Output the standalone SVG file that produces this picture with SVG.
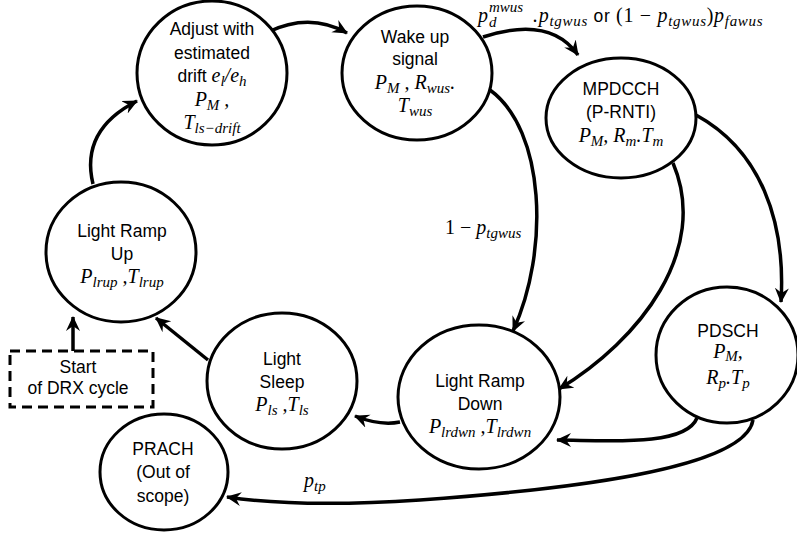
<svg xmlns="http://www.w3.org/2000/svg" width="797" height="534" viewBox="0 0 797 534">
<style>
.n{fill:#fff;stroke:#000;stroke-width:3}
.t{font-family:"Liberation Sans",Arial,sans-serif;font-size:17.5px;font-style:normal;fill:#000;text-anchor:middle}
.m{font-family:"Liberation Serif","Times New Roman",serif;font-style:italic;font-size:20px;fill:#000;text-anchor:middle}
.l{text-anchor:start}
.s{font-size:15px}
.u{font-style:normal}
.sf{font-family:"Liberation Sans",Arial,sans-serif;font-style:normal;font-size:17.5px}
.c{fill:none;stroke:#000;stroke-width:3.5;marker-end:url(#a)}
</style>
<defs>
<marker id="a" markerUnits="userSpaceOnUse" markerWidth="18" markerHeight="16" refX="14" refY="7" orient="auto">
<path d="M0,0 L15,7 L0,14 L5,7 Z" fill="#000"/>
</marker>
</defs>
<rect width="797" height="534" fill="#fff"/>
<g id="connectors">
<path class="c" d="M93,184 Q80,130 137,101"/>
<path class="c" d="M268,32 Q310,12 347,33"/>
<path class="c" d="M483,37 Q550,15 578,55"/>
<path class="c" d="M490,90 C545,130 550,250 513,331"/>
<path class="c" d="M673,163 C710,250 640,340 559,389"/>
<path class="c" d="M696,115 C760,150 786,220 781,302"/>
<path class="c" d="M697,418 C685,448 600,440 557,440"/>
<path class="c" d="M753,420 C745,470 560,490 420,500 Q300,508 227,497"/>
<path class="c" d="M400,422 Q380,426 355,416"/>
<path class="c" d="M208,360 L156,318"/>
<path class="c" d="M73,351 L73,317"/>
</g>
<g id="adjust">
<ellipse class="n" cx="212" cy="73" rx="75" ry="72"/>
<text class="t" x="212" y="35">Adjust with</text>
<text class="t" x="212" y="59">estimated</text>
<text class="t" x="212" y="82">drift  <tspan class="m">e<tspan class="s" dy="4">l</tspan><tspan dy="-4">/e</tspan><tspan class="s" dy="4">h</tspan></tspan></text>
<text class="m" x="212" y="106">P<tspan class="s" dy="4">M</tspan><tspan dy="-4"> ,</tspan></text>
<text class="m" x="212" y="129">T<tspan class="s" dy="4">ls−drift</tspan></text>
</g>
<g id="wakeup">
<ellipse class="n" cx="417" cy="73" rx="75" ry="67"/>
<text class="t" x="415" y="43">Wake up</text>
<text class="t" x="415" y="65">signal</text>
<text class="m" x="415" y="89">P<tspan class="s" dy="4">M</tspan><tspan dy="-4"> , R</tspan><tspan class="s" dy="4">wus</tspan><tspan dy="-4">.</tspan></text>
<text class="m" x="415" y="112">T<tspan class="s" dy="4">wus</tspan></text>
</g>
<g id="mpdcch">
<ellipse class="n" cx="621" cy="118" rx="75" ry="60"/>
<text class="t" x="621" y="95">MPDCCH</text>
<text class="t" x="621" y="118">(P-RNTI)</text>
<text class="m" x="621" y="142">P<tspan class="s" dy="4">M</tspan><tspan dy="-4">, R</tspan><tspan class="s" dy="4">m</tspan><tspan dy="-4">.T</tspan><tspan class="s" dy="4">m</tspan></text>
</g>
<g id="rampup">
<ellipse class="n" cx="121" cy="252" rx="75" ry="70"/>
<text class="t" x="122" y="237">Light Ramp</text>
<text class="t" x="122" y="260">Up</text>
<text class="m" x="122" y="283">P<tspan class="s" dy="4">lrup</tspan><tspan dy="-4"> ,T</tspan><tspan class="s" dy="4">lrup</tspan></text>
</g>
<g id="start">
<rect x="10" y="351" width="143" height="56" fill="#fff" stroke="#000" stroke-width="3" stroke-dasharray="10,6"/>
<text class="t" x="78" y="373">Start</text>
<text class="t" x="78" y="394">of DRX cycle</text>
</g>
<g id="sleep">
<ellipse class="n" cx="282" cy="381" rx="75" ry="68"/>
<text class="t" x="282" y="365">Light</text>
<text class="t" x="282" y="388">Sleep</text>
<text class="m" x="282" y="411">P<tspan class="s" dy="4">ls</tspan><tspan dy="-4"> ,T</tspan><tspan class="s" dy="4">ls</tspan></text>
</g>
<g id="rampdown">
<ellipse class="n" cx="479" cy="397" rx="81" ry="72"/>
<text class="t" x="480" y="387">Light Ramp</text>
<text class="t" x="480" y="410">Down</text>
<text class="m" x="480" y="433">P<tspan class="s" dy="4">lrdwn</tspan><tspan dy="-4"> ,T</tspan><tspan class="s" dy="4">lrdwn</tspan></text>
</g>
<g id="pdsch">
<ellipse class="n" cx="727" cy="355" rx="71" ry="68"/>
<text class="t" x="728" y="337">PDSCH</text>
<text class="m" x="728" y="358">P<tspan class="s" dy="3">M</tspan><tspan dy="-3">,</tspan></text>
<text class="m" x="728" y="384">R<tspan class="s" dy="4">p</tspan><tspan dy="-4">.T</tspan><tspan class="s" dy="4">p</tspan></text>
</g>
<g id="prach">
<ellipse class="n" cx="164" cy="472" rx="64" ry="58"/>
<text class="t" x="163" y="455">PRACH</text>
<text class="t" x="163" y="478">(Out of</text>
<text class="t" x="163" y="502">scope)</text>
</g>
<g id="labels">
<text class="m l" x="478" y="22">p</text>
<text class="m l s" x="489" y="27">d</text>
<text class="m l s" x="489" y="12">mwus</text>
<text class="m l" x="533" y="22" letter-spacing="0.7">.p<tspan class="s" dy="4">tgwus</tspan><tspan class="sf" dy="-4"> or </tspan><tspan class="u">(1 − </tspan>p<tspan class="s" dy="4">tgwus</tspan><tspan class="u" dy="-4">)</tspan>p<tspan class="s" dy="4">fawus</tspan></text>
<text class="m l" x="445" y="234"><tspan class="u">1 − </tspan>p<tspan class="s" dy="4">tgwus</tspan></text>
<text class="m l" x="304" y="487">p<tspan class="s" dy="4">tp</tspan></text>
</g>
</svg>
